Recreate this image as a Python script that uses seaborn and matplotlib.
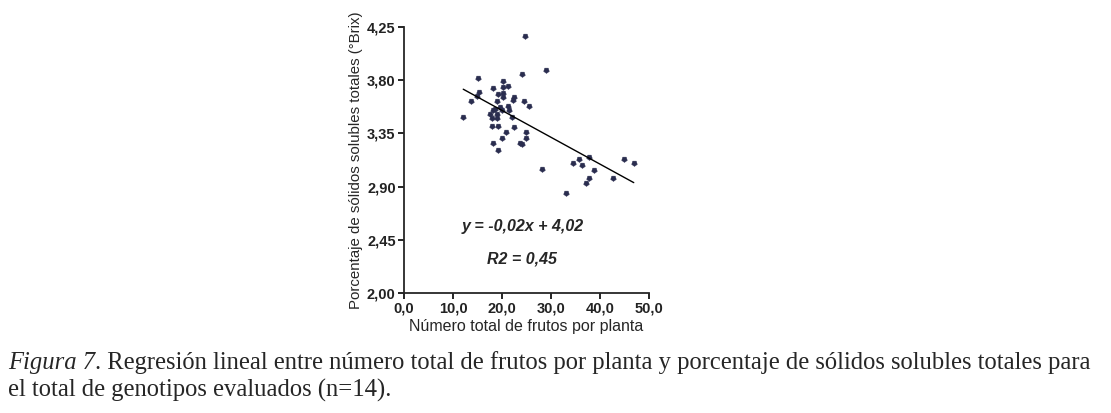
import seaborn as sns
import pandas as pd
import matplotlib
matplotlib.use("Agg")
import matplotlib.pyplot as plt

# number of fruits per plant vs total soluble solids (°Brix)
frutos = [24.7, 29.0, 24.1, 15.2, 20.3, 21.2, 20.3, 18.1, 15.4, 20.3,
          19.2, 15.0, 22.4, 20.3, 13.7, 22.2, 19.0, 24.6, 25.5, 21.2,
          19.5, 18.6, 20.1, 21.4, 18.2, 17.6, 19.0, 12.1, 22.1, 17.9,
          18.9, 18.0, 19.2, 22.4, 20.8, 24.9, 24.9, 20.0, 23.7, 24.1,
          18.1, 19.2, 28.2, 37.8, 35.8, 34.6, 36.3, 38.8, 45.0, 46.9,
          42.6, 37.7, 37.1, 33.1]
brix = [4.17, 3.89, 3.85, 3.82, 3.79, 3.75, 3.74, 3.73, 3.70, 3.69,
        3.68, 3.67, 3.66, 3.66, 3.62, 3.63, 3.62, 3.62, 3.58, 3.58,
        3.57, 3.56, 3.55, 3.55, 3.55, 3.51, 3.51, 3.49, 3.49, 3.48,
        3.48, 3.41, 3.41, 3.40, 3.36, 3.36, 3.31, 3.31, 3.27, 3.26,
        3.27, 3.21, 3.05, 3.15, 3.13, 3.10, 3.08, 3.04, 3.13, 3.10,
        2.97, 2.97, 2.93, 2.85]

x_ticks = [0, 10, 20, 30, 40, 50]
x_tick_labels = ["0,0", "10,0", "20,0", "30,0", "40,0", "50,0"]
y_ticks = [2.00, 2.45, 2.90, 3.35, 3.80, 4.25]
y_tick_labels = ["2,00", "2,45", "2,90", "3,35", "3,80", "4,25"]

ecuacion = "y = -0,02x + 4,02"
r2 = "R2 = 0,45"
caption_italic = "Figura 7"
caption_rest = (". Regresión lineal entre número total de frutos por planta "
                "y porcentaje de sólidos solubles totales para")
caption_line2 = "el total de genotipos evaluados (n=14)."

sns.set_style("ticks")
plt.rcParams["font.family"] = ["Liberation Sans", "DejaVu Sans"]

df = pd.DataFrame({"frutos": frutos, "brix": brix})

fig = plt.figure(figsize=(11.11, 4.13), dpi=100)
ax = fig.add_axes([0.3636, 0.2906, 0.2205, 0.644])

sns.regplot(data=df, x="frutos", y="brix", ax=ax, ci=None,
            marker=(5, 0, 180),
            scatter_kws={"s": 18, "color": "#2a2d4f", "edgecolor": "#2a2d4f",
                         "linewidths": 0.3, "alpha": 1},
            line_kws={"color": "black", "linewidth": 1.0})

ax.set_xlim(0, 50)
ax.set_ylim(2.0, 4.25)
ax.set_xticks(x_ticks)
ax.set_xticklabels(x_tick_labels)
ax.set_yticks(y_ticks)
ax.set_yticklabels(y_tick_labels)
ax.tick_params(axis="both", labelsize=10.5, length=4, width=1.2, pad=2,
               color="black", labelcolor="#222222", direction="out")
for lab in ax.get_xticklabels() + ax.get_yticklabels():
    lab.set_fontweight("bold")
ax.spines["left"].set_linewidth(1.3)
ax.spines["bottom"].set_linewidth(1.3)
sns.despine(ax=ax)

ax.set_xlabel("Número total de frutos por planta", fontsize=11.5, labelpad=3)
ax.set_ylabel("Porcentaje de sólidos solubles totales (°Brix)",
              fontsize=10.8, labelpad=3)

ax.text(24.3, 2.56, ecuacion, ha="center", va="center", fontsize=11.5,
        fontweight="bold", fontstyle="italic")
ax.text(24.0, 2.29, r2, ha="center", va="center", fontsize=11.5,
        fontweight="bold", fontstyle="italic")

# caption below the chart (two text pieces, italic + normal)
serif = ["Liberation Serif", "DejaVu Serif"]
t1 = fig.text(8 / 1111, 1 - 363 / 413, caption_italic, family=serif,
              fontstyle="italic", fontsize=17.7, va="center", ha="left")
fig.canvas.draw()
renderer = fig.canvas.get_renderer()
bb = t1.get_window_extent(renderer)
fig.text(bb.x1 / fig.bbox.width, 1 - 363 / 413, caption_rest, family=serif,
         fontsize=17.7, va="center", ha="left")
fig.text(8 / 1111, 1 - 390 / 413, caption_line2, family=serif,
         fontsize=17.7, va="center", ha="left")

plt.savefig("out.png", dpi=100)
